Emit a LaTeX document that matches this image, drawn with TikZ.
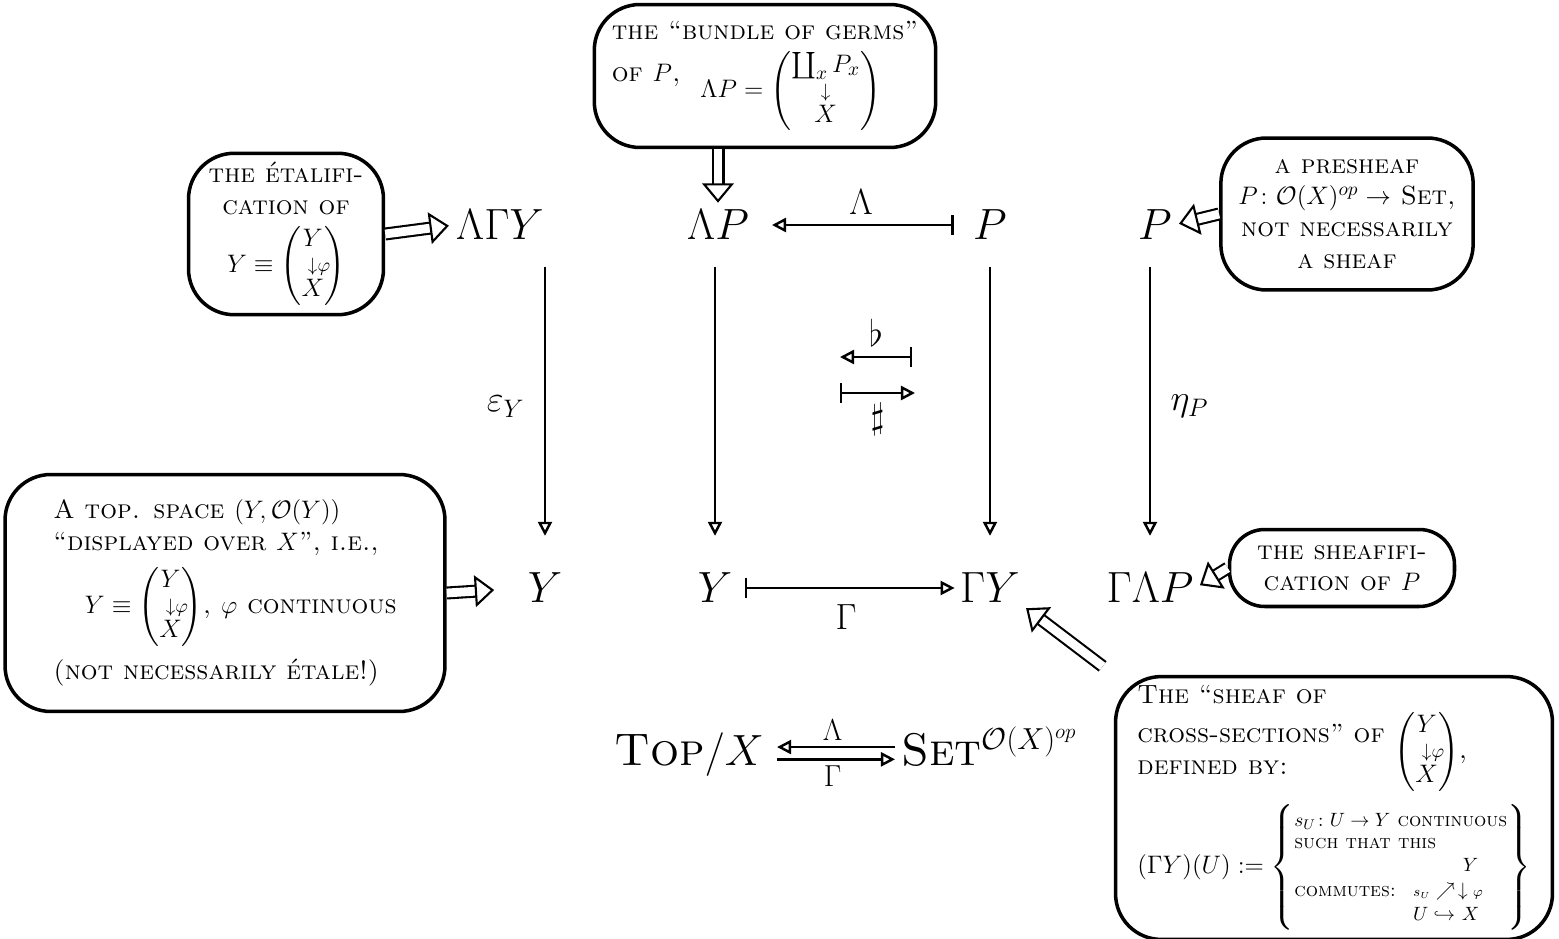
\documentclass[tikz,border=0pt]{standalone}
\usepackage{amsmath,amssymb}
\usepackage{fontspec}
\usetikzlibrary{arrows.meta,positioning,calc}

\newcommand{\disp}[3]{\left(\renewcommand{\arraystretch}{0.8}\begin{array}{@{}c@{}}#1\\ {\scriptstyle\downarrow}\rlap{$\scriptstyle#2$}\\ #3\end{array}\right)}

\begin{document}
\begin{tikzpicture}[x=0.02cm, y=-0.02cm,
  obj/.style={font=\fontsize{38}{44}\selectfont, inner sep=1pt},
  lbl/.style={font=\fontsize{22}{26}\selectfont, inner sep=3pt},
  note/.style={draw, line width=2pt, rounded corners=26pt, font=\fontsize{15}{18}\selectfont\scshape, inner xsep=10pt, inner ysep=5pt},
  arr/.style={line width=1.4pt, -{Triangle[open, length=8pt, width=8pt]}},
  down/.style={arr, shorten <=14pt, shorten >=20pt},
  mapsto/.style={line width=1.4pt, {Bar[width=11pt]}-{Triangle[open, length=8pt, width=8pt]}},
  hollow/.style={line width=1.2pt, double=white, double distance=5pt, -{Triangle[open, length=11pt, width=18pt]}, shorten >=3pt},
]
\useasboundingbox (0,0) rectangle (1559,939);

\node[obj] (lgy) at (500,225) {$\Lambda\Gamma Y$};
\node[obj] (lp) at (718,225) {$\Lambda P$};
\node[obj] (p) at (990,225) {$P$};
\node[obj] (pr) at (1155,225) {$P$};
\node[obj] (y) at (545,588) {$Y$};
\node[obj] (yr) at (715,588) {$Y$};
\node[obj] (gy) at (990,588) {$\Gamma Y$};
\node[obj] (glp) at (1150,588) {$\Gamma\Lambda P$};

\draw[down] (lgy.south -| y.north) -- (y.north) node[lbl, midway, left=8pt] {$\varepsilon_Y$};
\draw[down] (lp.south -| yr.north) -- (yr.north);
\draw[down] (p.south) -- (gy.north);
\draw[down] (pr.south -| glp.north) -- (glp.north) node[lbl, midway, right=8pt] {$\eta_P$};

\draw[mapsto, shorten <=10pt, shorten >=12pt] (p) -- (lp) node[lbl, midway, above=2pt] {$\Lambda$};
\draw[mapsto, shorten <=6pt, shorten >=2pt] (yr) -- (gy) node[lbl, midway, below=6pt] {$\Gamma$};

\coordinate (b1) at (912,357);
\coordinate (b0) at (840,357);
\coordinate (s0) at (840,393);
\coordinate (s1) at (915,393);
\draw[mapsto] (b1) -- (b0) node[lbl, midway, above=2pt] {$\flat$};
\draw[mapsto] (s0) -- (s1) node[lbl, midway, below=2pt] {$\sharp$};

\node[font=\fontsize{26}{30}\selectfont, anchor=base east] (top) at (770,765) {\textsc{Top}$/X$};
\node[font=\fontsize{26}{30}\selectfont, anchor=base west] (set) at (895,765) {\textsc{Set}$^{\mathcal{O}(X)^{op}}$};
\draw[arr, shorten >=4pt] ($(set.west |- top.east)+(0,4pt)$) -- ($(top.east)+(0,4pt)$) node[lbl, midway, above, font=\fontsize{16}{18}\selectfont] {$\Lambda$};
\draw[arr, shorten <=4pt] ($(top.east)+(0,-3pt)$) -- ($(set.west |- top.east)+(0,-3pt)$) node[lbl, midway, below, font=\fontsize{16}{18}\selectfont] {$\Gamma$};

\node[note, align=left, minimum width=5.6cm, minimum height=2.86cm] (germs) at (765,76) {the ``bundle of germs''\\[6pt]
  \raisebox{1.2ex}{of $P$,}\ \ $\Lambda P=\disp{\coprod_x P_x}{}{X}$};
\node[note, align=center, minimum width=3.9cm, minimum height=2.64cm] (etal) at (286,234) {the \'etalifi-\\cation of\\[6pt]
  $Y\equiv\disp{Y}{\varphi}{X}$};
\node[note, align=center, minimum width=4.9cm, minimum height=3.04cm] (pre) at (1347,214) {a presheaf\\
  $P\colon\mathcal{O}(X)^{op}\to$ Set,\\not necessarily\\a sheaf};
\node[note, align=left, minimum width=8.8cm, minimum height=4.74cm] (topsp) at (225,593) {A top. space $(Y,\mathcal{O}(Y))$\\
  ``displayed over $X$'', i.e.,\\[6pt]
  \hspace*{1.2em}$Y\equiv\disp{Y}{\varphi}{X}$, $\varphi$ continuous\\[6pt]
  (not necessarily \'etale!)};
\node[note, rounded corners=20pt, align=center, minimum width=4.5cm, minimum height=1.54cm] (shf) at (1342,568) {the sheafifi-\\cation of $P$};
\node[note, align=left, minimum width=8.74cm, minimum height=4.7cm] (cross) at (1334,808) {The ``sheaf of\\[4pt]
  \begin{tabular}{@{}l@{}}cross-sections'' of\\defined by:\end{tabular} $\disp{Y}{\varphi}{X}$,\\[6pt]
  $(\Gamma Y)(U) :=\left\{\text{\fontsize{11}{13}\selectfont\begin{tabular}{@{}l@{}}$s_U\colon U\to Y$ continuous\\such that this\\commutes: \ $\begin{array}{@{}r@{\,}c@{}} & Y\\[1pt] {\scriptstyle s_U}\nearrow & \downarrow{\scriptstyle\varphi}\\[1pt] U\hookrightarrow & X\end{array}$\end{tabular}}\right\}$};

\draw[hollow] (germs.south -| lp.north) -- (lp.north);
\draw[hollow] (etal.east) -- (lgy.west);
\draw[hollow] (pre.west) -- (pr.east);
\draw[hollow, shorten >=18pt] (topsp.east) -- (y.west);
\draw[hollow] (shf.west) -- (glp.east);
\draw[hollow, shorten <=8pt] (cross.north west) -- (gy.south east);

\end{tikzpicture}
\end{document}
